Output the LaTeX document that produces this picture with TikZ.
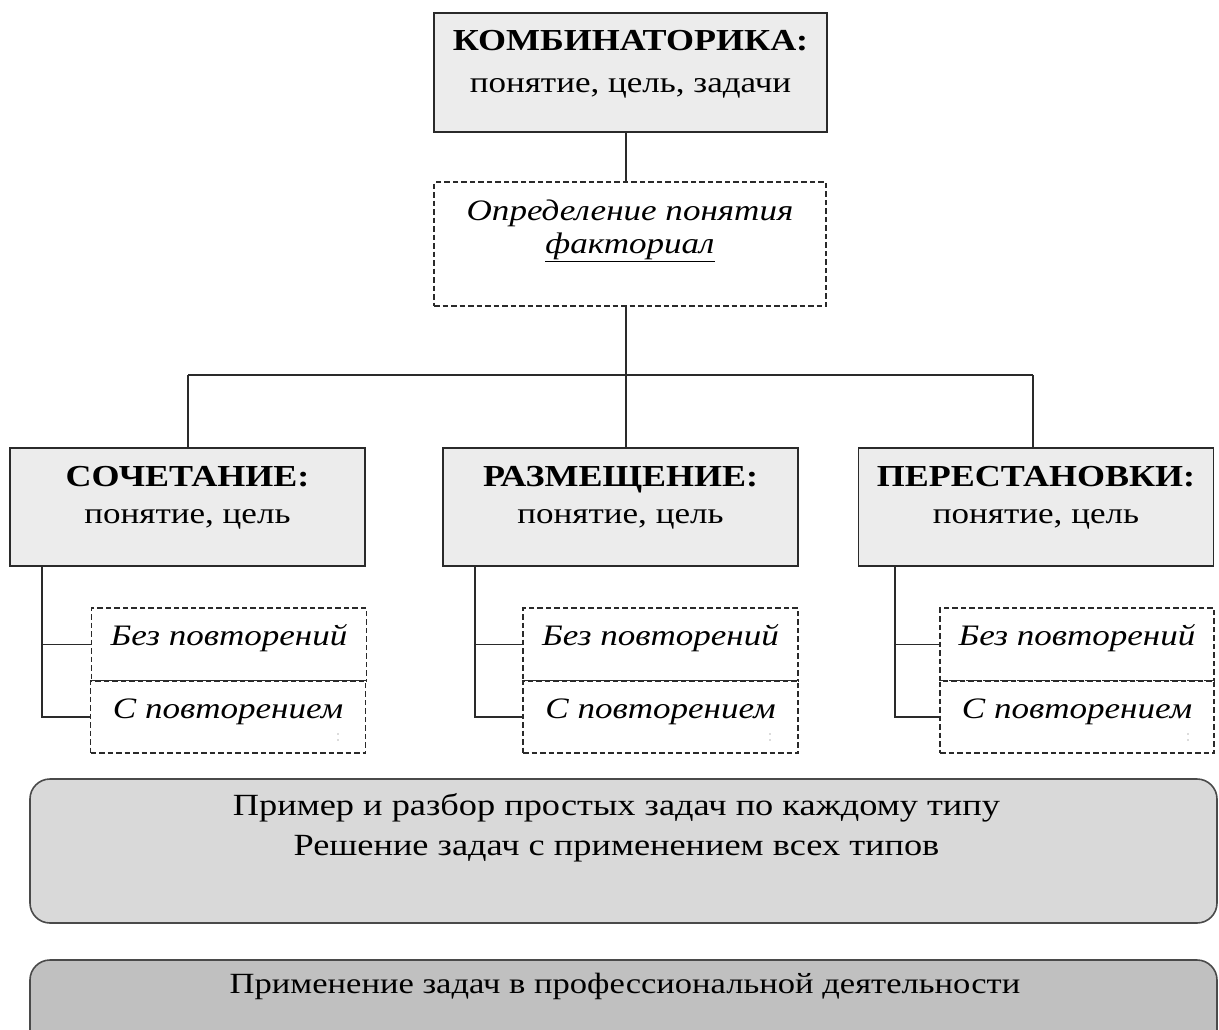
\documentclass[tikz,border=0pt]{standalone}
\usepackage{fontspec}
\setmainfont{Liberation Serif}[FakeStretch=1.18]
\definecolor{hdrfill}{HTML}{ECECEC}
\definecolor{boxone}{HTML}{D9D9D9}
\definecolor{boxtwo}{HTML}{C0C0C0}
\definecolor{ink}{HTML}{2A2A2A}
\tikzset{
  solidbox/.style={draw=ink, line width=1.6pt, fill=hdrfill, inner sep=0pt, rectangle},
  dashbox/.style={draw=ink, line width=1.3pt, dash pattern=on 5.5pt off 3pt, fill=white, inner sep=0pt, rectangle},
  roundbox/.style={draw=ink!85, line width=1.6pt, rounded corners=20pt, inner sep=0pt, rectangle},
  conn/.style={draw=ink, line width=1.6pt},
  hdr/.style={anchor=base, inner sep=0pt, font=\fontsize{30.5}{36}\selectfont\bfseries},
  sub/.style={anchor=base, inner sep=0pt, font=\fontsize{29.7}{36}\selectfont},
  ital/.style={anchor=base, inner sep=0pt, font=\fontsize{29.7}{36}\selectfont\itshape},
  bot/.style={anchor=base, inner sep=0pt, font=\fontsize{30.8}{36}\selectfont},
}
\begin{document}
\begin{tikzpicture}[x=1pt,y=-1pt]
\useasboundingbox (0,0) rectangle (1219,1029);
% top
\node[solidbox, minimum width=393pt, minimum height=119pt] (top) at (630.5,72.5) {};
\node[hdr] (topA) at (630.5,50) {КОМБИНАТОРИКА:};
\node[sub] (topB) at (630.5,92) {понятие, цель, задачи};
% definition
\node[dashbox, minimum width=392pt, minimum height=124pt] (def) at (630,244) {};
\node[ital] (defA) at (630,220) {Определение понятия};
\node[ital] (defB) at (630,253) {\underline{факториал}};
\coordinate (trunk) at (626,375);
\coordinate (barL) at (188,375);
\coordinate (barR) at (1033,375);
% headers
\node[solidbox, minimum width=355pt, minimum height=118pt] (hA) at (187.5,507) {};
\node[solidbox, minimum width=355pt, minimum height=118pt] (hB) at (620.5,507) {};
\node[solidbox, minimum width=355pt, minimum height=118pt] (hC) at (1036,507) {};
\node[hdr] (hAt) at (187.5,486) {СОЧЕТАНИЕ:};
\node[sub] (hAs) at (187.5,523) {понятие, цель};
\node[hdr] (hBt) at (620.5,486) {РАЗМЕЩЕНИЕ:};
\node[sub] (hBs) at (620.5,523) {понятие, цель};
\node[hdr] (hCt) at (1036,486) {ПЕРЕСТАНОВКИ:};
\node[sub] (hCs) at (1036,523) {понятие, цель};
% connectors top part
\draw[conn] (top.south -| trunk) -- (def.north -| trunk);
\draw[conn] (def.south -| trunk) -- (hB.north -| trunk);
\draw[conn] (barL) -- (barR);
\draw[conn] (barL) -- (hA.north -| barL);
\draw[conn] (barR) -- (hC.north -| barR);
% sub boxes
\node[dashbox, minimum width=275pt, minimum height=73pt] (aN) at (229,644.5) {};
\node[dashbox, minimum width=275pt, minimum height=72pt] (aR) at (228,717) {};
\node[dashbox, minimum width=275pt, minimum height=73pt] (bN) at (660.5,644.5) {};
\node[dashbox, minimum width=275pt, minimum height=72pt] (bR) at (660.5,717) {};
\node[dashbox, minimum width=274pt, minimum height=73pt] (cN) at (1077,644.5) {};
\node[dashbox, minimum width=274pt, minimum height=72pt] (cR) at (1077,717) {};
\node[ital] at (229,645) {Без повторений};
\node[ital] at (228,718) {С повторением};
\node[ital] at (660.5,645) {Без повторений};
\node[ital] at (660.5,718) {С повторением};
\node[ital] at (1077,645) {Без повторений};
\node[ital] at (1077,718) {С повторением};
% branch connectors
\coordinate (brA) at (42,0);
\coordinate (brB) at (475,0);
\coordinate (brC) at (895,0);
\draw[conn] (hA.south -| brA) |- (aR.west);
\draw[conn] (aN.west -| brA) -- (aN.west);
\draw[conn] (hB.south -| brB) |- (bR.west);
\draw[conn] (bN.west -| brB) -- (bN.west);
\draw[conn] (hC.south -| brC) |- (cR.west);
\draw[conn] (cN.west -| brC) -- (cN.west);
% faint marks
\foreach \x in {338,770,1188} {
  \fill[gray!55] (\x,734) circle (0.9pt);
  \fill[gray!55] (\x,740) circle (0.9pt);
}
% bottom boxes
\node[roundbox, fill=boxone, minimum width=1187pt, minimum height=144pt] (ex) at (623.5,851) {};
\node[bot] at (616.5,815) {Пример и разбор простых задач по каждому типу};
\node[bot] at (616.5,855) {Решение задач с применением всех типов};
\node[roundbox, fill=boxtwo, minimum width=1187pt, minimum height=90pt] (app) at (623.5,1005) {};
\node[bot, font=\fontsize{29.3}{36}\selectfont] at (625,993) {Применение задач в профессиональной деятельности};
\end{tikzpicture}
\end{document}
